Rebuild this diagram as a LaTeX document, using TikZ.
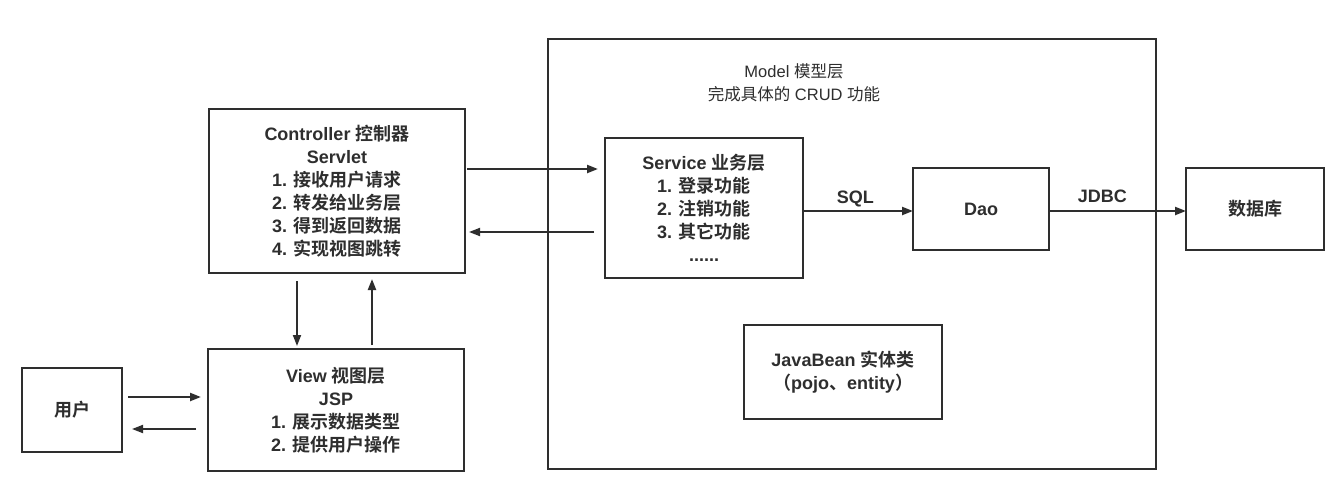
\documentclass[tikz,border=0pt]{standalone}
\usepackage{fontspec}
\setmainfont{Liberation Sans}
\newfontfamily\cjk{Noto Sans CJK SC}[BoldFont={Noto Sans CJK SC Bold}]
\usetikzlibrary{arrows.meta}
\newcommand\zhtxt[1]{{\cjk #1}}
\definecolor{ink}{HTML}{2E2E2E}
\begin{document}
\begin{tikzpicture}[x=1pt,y=-1pt,
  box/.style={draw=ink, line width=2pt, fill=white, inner sep=0pt, outer sep=0pt,
    align=center, text=ink, font=\fontsize{18}{23}\selectfont\bfseries},
  plain/.style={inner sep=0pt, outer sep=0pt, align=center, text=ink},
  arr/.style={draw=ink, line width=2.2pt, -{Triangle[length=11pt,width=8pt]}},
  arrthin/.style={arr, line width=1.8pt},
  lbl/.style={inner sep=0pt, text=ink, font=\fontsize{18}{23}\selectfont\bfseries, anchor=base}
]
\useasboundingbox (0,0) rectangle (1341,490);
\fill[white] (0,0) rectangle (1341,490);

% Model container
\node[box, minimum width=608pt, minimum height=430pt] (model) at (852,254) {};
\node[plain, font=\fontsize{16.5}{23}\selectfont] (mlabel) at (794,82.5)
  {Model \zhtxt{模型层}\\\zhtxt{完成具体的} CRUD \zhtxt{功能}};

% Boxes
\node[box, minimum width=256pt, minimum height=164pt] (ctrl) at (337,191)
  {Controller \zhtxt{控制器}\\Servlet\\1. \zhtxt{接收用户请求}\\2. \zhtxt{转发给业务层}\\3. \zhtxt{得到返回数据}\\4. \zhtxt{实现视图跳转}};
\node[box, minimum width=198pt, minimum height=140pt] (svc) at (704,208)
  {Service \zhtxt{业务层}\\1. \zhtxt{登录功能}\\2. \zhtxt{注销功能}\\3. \zhtxt{其它功能}\\......};
\node[box, minimum width=136pt, minimum height=82pt] (dao) at (981,209) {Dao};
\node[box, minimum width=138pt, minimum height=82pt] (db) at (1255,209) {\zhtxt{数据库}};
\node[box, minimum width=198pt, minimum height=94pt] (bean) at (843,372)
  {JavaBean \zhtxt{实体类}\\\zhtxt{（}pojo\zhtxt{、}entity\zhtxt{）}};
\node[box, minimum width=256pt, minimum height=122pt] (view) at (336,410)
  {View \zhtxt{视图层}\\JSP\\1. \zhtxt{展示数据类型}\\2. \zhtxt{提供用户操作}};
\node[box, minimum width=100pt, minimum height=84pt] (user) at (72,410) {\zhtxt{用户}};

% Arrows
\draw[arr] ([shift={(2,60)}]ctrl.north east) -- ([shift={(-7,31)}]svc.north west);
\draw[arrthin] ([shift={(-11,94)}]svc.north west) -- ([shift={(4,123)}]ctrl.north east);
\draw[arr] ([shift={(0,3)}]svc.east) -- ([shift={(0,2)}]dao.west)
  node[lbl, pos=0.475, yshift=7.5pt] (sql) {SQL};
\draw[arr] ([shift={(0,2)}]dao.east) -- ([shift={(0,2)}]db.west)
  node[lbl, pos=0.39, yshift=8.5pt] (jdbc) {JDBC};
\draw[arrthin] ([shift={(88,8)}]ctrl.south west) -- ([shift={(89,-3)}]view.north west);
\draw[arr] ([shift={(164,-4)}]view.north west) -- ([shift={(163,6)}]ctrl.south west);
\draw[arr] ([shift={(6,29)}]user.north east) -- ([shift={(-7,48)}]view.north west);
\draw[arrthin] ([shift={(-12,80)}]view.north west) -- ([shift={(10,61)}]user.north east);
\end{tikzpicture}
\end{document}
